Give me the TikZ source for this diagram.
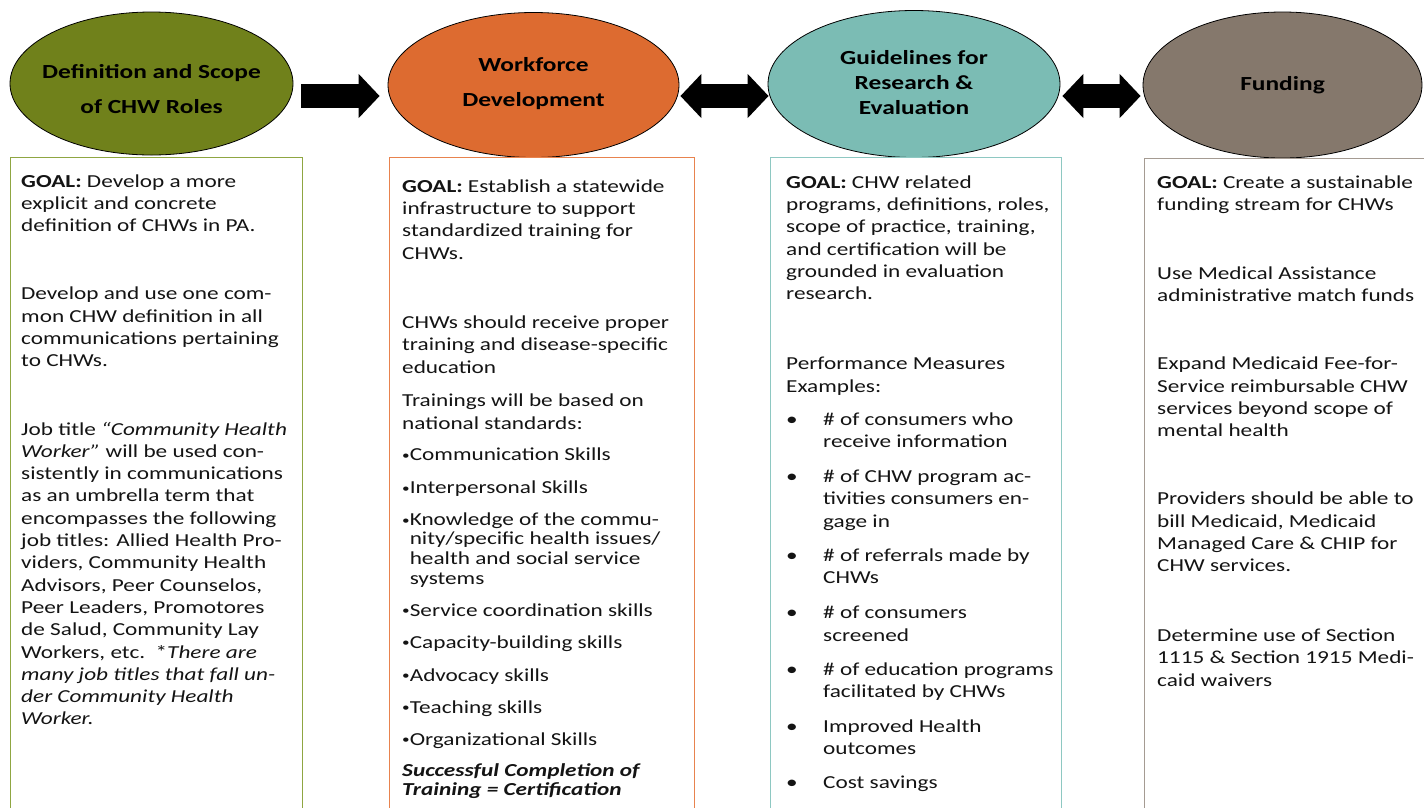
\documentclass[tikz,border=0pt]{standalone}
\usepackage{fontspec}
\setmainfont{Carlito}[FakeStretch=1.27]
\usepackage{tikz}
\usetikzlibrary{arrows.meta, positioning, shapes.geometric}
\usepackage{xcolor}
\definecolor{defcol}{RGB}{112,129,27}
\definecolor{workcol}{RGB}{221,107,48}
\definecolor{guidecol}{RGB}{123,188,180}
\definecolor{fundcol}{RGB}{133,120,108}
\definecolor{defline}{RGB}{143,166,66}
\definecolor{workline}{RGB}{232,131,78}
\definecolor{guideline}{RGB}{142,200,194}
\definecolor{fundline}{RGB}{165,155,146}
\definecolor{ink}{RGB}{20,20,20}
\newcommand{\skilldot}{\raisebox{1.6pt}{\fontsize{12}{12}\selectfont•}}

\begin{document}
\begin{tikzpicture}[
x=1pt, y=-1pt,
stage/.style={draw=black, line width=0.8pt, ellipse, inner sep=0pt},
title/.style={align=center, inner sep=0pt, font=\fontsize{20}{25}\selectfont\bfseries},
panel/.style={draw, rectangle, line width=1.4pt, anchor=north west, minimum height=700pt},
note/.style={anchor=north west, inner sep=0pt, align=left, text=ink, font=\fontsize{18.3}{22.3}\selectfont},
arrow/.style={-{Triangle[length=21pt, width=43pt]}, line width=24pt},
biarrow/.style={{Triangle[length=21pt, width=43pt]}-{Triangle[length=21pt, width=43pt]}, line width=24pt}
]

\useasboundingbox (0,0) rectangle (1424,807);
\clip (0,0) rectangle (1424,807);
\fill[white] (0,0) rectangle (1424,807);

\node[stage, fill=defcol, minimum width=283pt, minimum height=143pt] (def) at (151.5,83.5) {};
\node[stage, fill=workcol, minimum width=291pt, minimum height=145pt] (work) at (533.5,85) {};
\node[stage, fill=guidecol, minimum width=292pt, minimum height=147pt] (guide) at (914,84) {};
\node[stage, fill=fundcol, minimum width=279pt, minimum height=146pt] (fund) at (1282.5,85) {};

\node[title] (deft) at ([yshift=-6pt]def.center) {Definition and Scope\\[10pt]of CHW Roles};
\node[title] (workt) at ([yshift=1.5pt]work.center) {Workforce\\[10pt]Development};
\node[title] (guidet) at ([yshift=1.5pt]guide.center) {Guidelines for\\Research \&\\Evaluation};
\node[title] (fundt) at (fund.center) {Funding};

\node[panel, draw=defline, minimum width=292pt] (box1) at (10,157) {};
\node[panel, draw=workline, minimum width=305pt] (box2) at (389,157) {};
\node[panel, draw=guideline, minimum width=291pt] (box3) at (770,157) {};
\node[panel, draw=fundline, minimum width=300pt] (box4) at (1144,158) {};

\node[note, below right=14.4pt and 11pt of box1.north west] (txt1) {\strut\textbf{GOAL:} Develop a more\\
explicit and concrete\\
definition of CHWs in PA.\\[45.7pt]
Develop and use one com-\\
mon CHW definition in all\\
communications pertaining\\
to CHWs.\\[46pt]
Job title \textit{“Community Health}\\
\textit{Worker”} will be used con-\\
sistently in communications\\
as an umbrella term that\\
encompasses the following\\
job titles: Allied Health Pro-\\
viders, Community Health\\
Advisors, Peer Counselos,\\
Peer Leaders, Promotores\\
de Salud, Community Lay\\
Workers, etc.\ \ *\textit{There are}\\
\textit{many job titles that fall un-}\\
\textit{der Community Health}\\
\textit{Worker.}};

\node[note, below right=19.4pt and 13pt of box2.north west] (txt2) {\strut\textbf{GOAL:} Establish a statewide\\
infrastructure to support\\
standardized training for\\
CHWs.\\[47pt]
CHWs should receive proper\\
training and disease-specific\\
education\\[11.5pt]
Trainings will be based on\\
national standards:\\[9.5pt]
\skilldot Communication Skills\\[10.7pt]
\skilldot Interpersonal Skills\\[9.7pt]
\skilldot Knowledge of the commu-\\[-4pt]
\phantom{\skilldot}nity/specific health issues/\\[-2.3pt]
\phantom{\skilldot}health and social service\\[-2.3pt]
\phantom{\skilldot}systems\\[9.5pt]
\skilldot Service coordination skills\\[10pt]
\skilldot Capacity-building skills\\[10.5pt]
\skilldot Advocacy skills\\[9.7pt]
\skilldot Teaching skills\\[10pt]
\skilldot Organizational Skills\\[8.5pt]
\textbf{\textit{Successful Completion of}}\\[-3pt]
\textbf{\textit{Training = Certification}}};

\node[note, below right=15.4pt and 16pt of box3.north west] (txt3) {\strut\textbf{GOAL:} CHW related\\
programs, definitions, roles,\\
scope of practice, training,\\
and certification will be\\
grounded in evaluation\\
research.\\[47.7pt]
Performance Measures\\
Examples:\\[11pt]
\makebox[37pt][l]{•}\# of consumers who\\
\hspace*{37pt}receive information\\[12.7pt]
\makebox[37pt][l]{•}\# of CHW program ac-\\
\hspace*{37pt}tivities consumers en-\\
\hspace*{37pt}gage in\\[12pt]
\makebox[37pt][l]{•}\# of referrals made by\\
\hspace*{37pt}CHWs\\[12.7pt]
\makebox[37pt][l]{•}\# of consumers\\
\hspace*{37pt}screened\\[12pt]
\makebox[37pt][l]{•}\# of education programs\\
\hspace*{37pt}facilitated by CHWs\\[12pt]
\makebox[37pt][l]{•}Improved Health\\
\hspace*{37pt}outcomes\\[12pt]
\makebox[37pt][l]{•}Cost savings};

\node[note, below right=14.4pt and 13pt of box4.north west] (txt4) {\strut\textbf{GOAL:} Create a sustainable\\
funding stream for CHWs\\[46.7pt]
Use Medical Assistance\\
administrative match funds\\[45.7pt]
Expand Medicaid Fee-for-\\
Service reimbursable CHW\\
services beyond scope of\\
mental health\\[45.7pt]
Providers should be able to\\
bill Medicaid, Medicaid\\
Managed Care \& CHIP for\\
CHW services.\\[47.7pt]
Determine use of Section\\
1115 \& Section 1915 Medi-\\
caid waivers};

\draw[arrow] ([xshift=8pt,yshift=-12.5pt]def.east) -- ([xshift=-8pt,yshift=-11pt]work.west);
\draw[biarrow] ([xshift=1pt,yshift=-11pt]work.east) -- ([xshift=1pt,yshift=-12pt]guide.west);
\draw[biarrow] ([xshift=2pt,yshift=-12pt]guide.east) -- ([xshift=-2pt,yshift=-11pt]fund.west);

\end{tikzpicture}
\end{document}
